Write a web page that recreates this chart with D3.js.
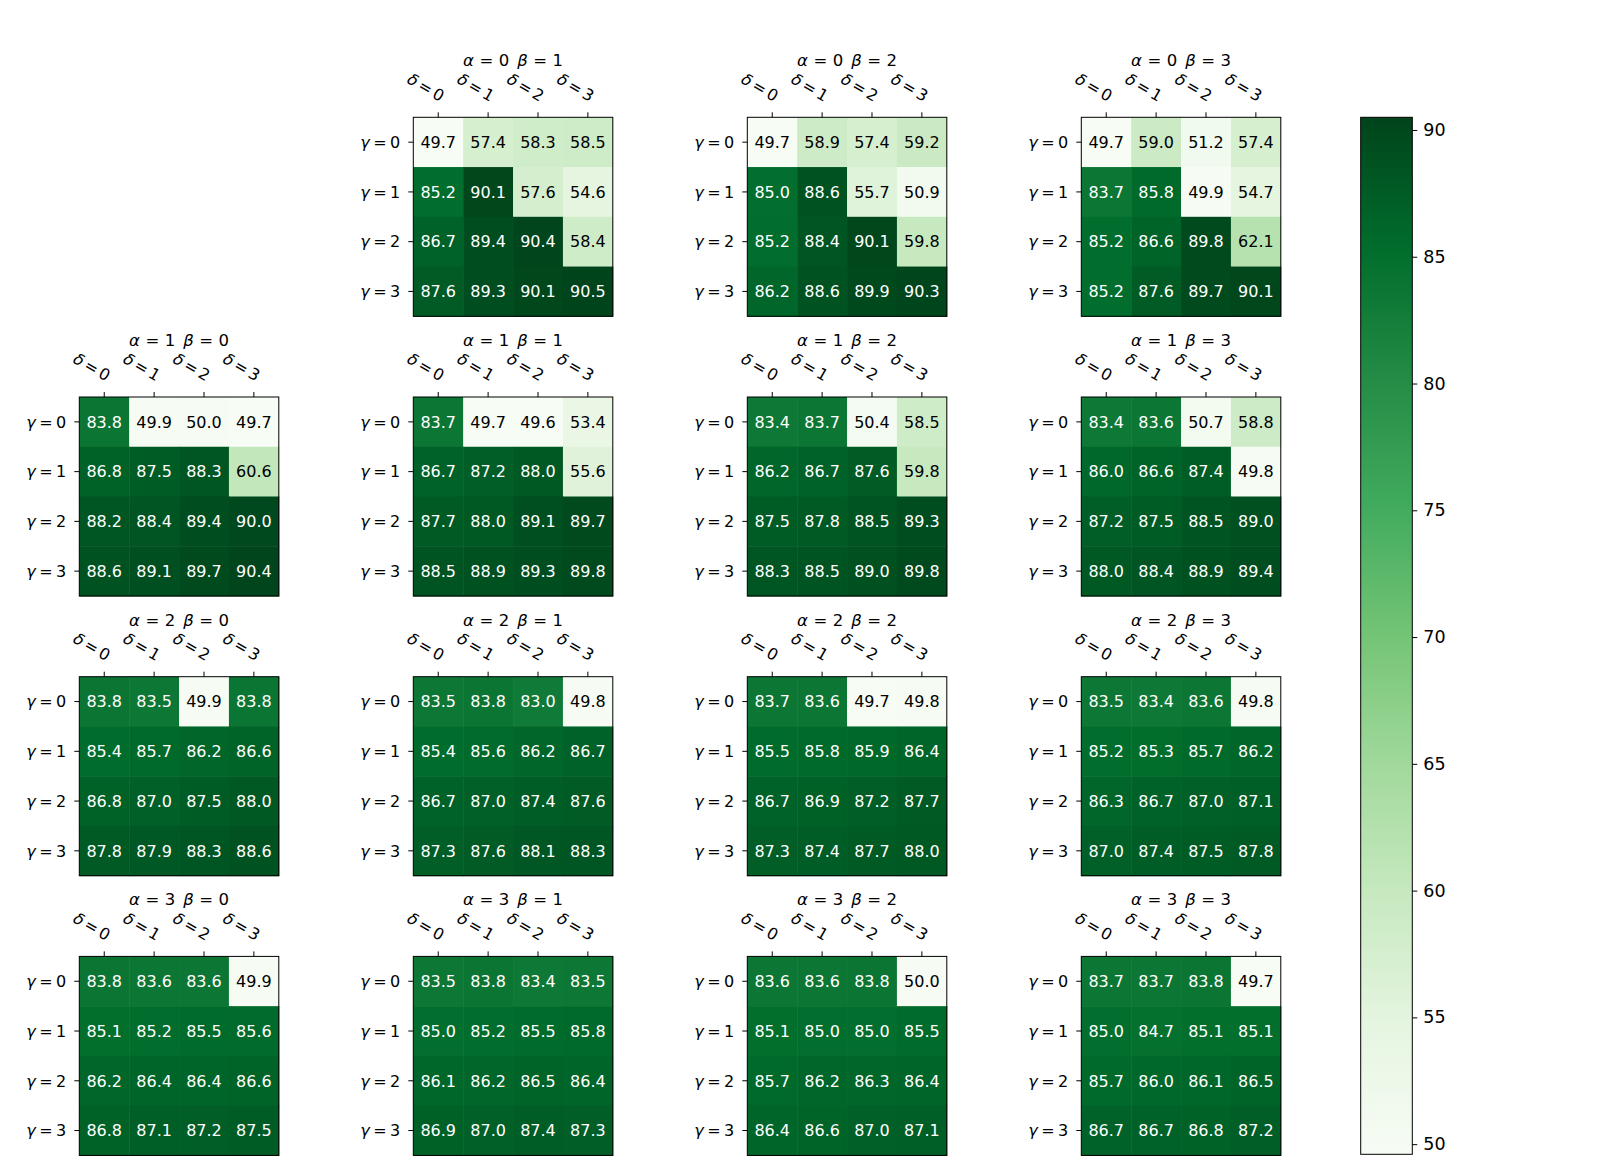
<!DOCTYPE html>
<html>
<head>
<meta charset="utf-8">
<script src="https://cdn.jsdelivr.net/npm/d3@7"></script>
<style>
  body { margin: 0; background: #fff; }
  text { font-family: "DejaVu Sans", sans-serif; fill: #000; }
</style>
</head>
<body>
<svg id="chart" width="1600" height="1166"></svg>
<script>
// tick labels
const deltaTicks = ["0", "1", "2", "3"]
const gammaTicks = ["0", "1", "2", "3"]
const colorTicks = [50, 55, 60, 65, 70, 75, 80, 85, 90]

// one 4x4 grid per (alpha, beta): rows = gamma, columns = delta
const a0b1 = [[49.7, 57.4, 58.3, 58.5], [85.2, 90.1, 57.6, 54.6], [86.7, 89.4, 90.4, 58.4], [87.6, 89.3, 90.1, 90.5]]
const a0b2 = [[49.7, 58.9, 57.4, 59.2], [85.0, 88.6, 55.7, 50.9], [85.2, 88.4, 90.1, 59.8], [86.2, 88.6, 89.9, 90.3]]
const a0b3 = [[49.7, 59.0, 51.2, 57.4], [83.7, 85.8, 49.9, 54.7], [85.2, 86.6, 89.8, 62.1], [85.2, 87.6, 89.7, 90.1]]
const a1b0 = [[83.8, 49.9, 50.0, 49.7], [86.8, 87.5, 88.3, 60.6], [88.2, 88.4, 89.4, 90.0], [88.6, 89.1, 89.7, 90.4]]
const a1b1 = [[83.7, 49.7, 49.6, 53.4], [86.7, 87.2, 88.0, 55.6], [87.7, 88.0, 89.1, 89.7], [88.5, 88.9, 89.3, 89.8]]
const a1b2 = [[83.4, 83.7, 50.4, 58.5], [86.2, 86.7, 87.6, 59.8], [87.5, 87.8, 88.5, 89.3], [88.3, 88.5, 89.0, 89.8]]
const a1b3 = [[83.4, 83.6, 50.7, 58.8], [86.0, 86.6, 87.4, 49.8], [87.2, 87.5, 88.5, 89.0], [88.0, 88.4, 88.9, 89.4]]
const a2b0 = [[83.8, 83.5, 49.9, 83.8], [85.4, 85.7, 86.2, 86.6], [86.8, 87.0, 87.5, 88.0], [87.8, 87.9, 88.3, 88.6]]
const a2b1 = [[83.5, 83.8, 83.0, 49.8], [85.4, 85.6, 86.2, 86.7], [86.7, 87.0, 87.4, 87.6], [87.3, 87.6, 88.1, 88.3]]
const a2b2 = [[83.7, 83.6, 49.7, 49.8], [85.5, 85.8, 85.9, 86.4], [86.7, 86.9, 87.2, 87.7], [87.3, 87.4, 87.7, 88.0]]
const a2b3 = [[83.5, 83.4, 83.6, 49.8], [85.2, 85.3, 85.7, 86.2], [86.3, 86.7, 87.0, 87.1], [87.0, 87.4, 87.5, 87.8]]
const a3b0 = [[83.8, 83.6, 83.6, 49.9], [85.1, 85.2, 85.5, 85.6], [86.2, 86.4, 86.4, 86.6], [86.8, 87.1, 87.2, 87.5]]
const a3b1 = [[83.5, 83.8, 83.4, 83.5], [85.0, 85.2, 85.5, 85.8], [86.1, 86.2, 86.5, 86.4], [86.9, 87.0, 87.4, 87.3]]
const a3b2 = [[83.6, 83.6, 83.8, 50.0], [85.1, 85.0, 85.0, 85.5], [85.7, 86.2, 86.3, 86.4], [86.4, 86.6, 87.0, 87.1]]
const a3b3 = [[83.7, 83.7, 83.8, 49.7], [85.0, 84.7, 85.1, 85.1], [85.7, 86.0, 86.1, 86.5], [86.7, 86.7, 86.8, 87.2]]

const panels = [
  [0, 1, a0b1], [0, 2, a0b2], [0, 3, a0b3],
  [1, 0, a1b0], [1, 1, a1b1], [1, 2, a1b2], [1, 3, a1b3],
  [2, 0, a2b0], [2, 1, a2b1], [2, 2, a2b2], [2, 3, a2b3],
  [3, 0, a3b0], [3, 1, a3b1], [3, 2, a3b2], [3, 3, a3b3]
].map(([a, b, v]) => ({alpha: a, beta: b, values: v}))

const svg = d3.select('#chart')
svg.append('rect').attr('width', 1600).attr('height', 1166).attr('fill', '#fff')

// layout
const pw = 199.5, ph = 199
const colLeft = c => 79.3 + 334 * c
const rowTop = r => 117.3 + 279.7 * r

const all = panels.flatMap(p => p.values.flat())
const [vmin, vmax] = d3.extent(all)

// matplotlib "Greens" = linear segments through the 9 brewer colours
const greens = d3.schemeGreens[9]
const color = d3.scaleLinear()
    .domain(greens.map((_, i) => vmin + (vmax - vmin) * i / 8))
    .range(greens)
    .interpolate(d3.interpolateRgb)

const x = d3.scaleBand().domain(d3.range(4)).range([0, pw])
const y = d3.scaleBand().domain(d3.range(4)).range([0, ph])

// "sym = val" in mathtext style: italic symbol, small gaps round "="
function mathText(sel, sym, val, gap) {
  sel.append('tspan').attr('font-style', 'italic').text(sym)
  sel.append('tspan').attr('dx', gap).text('=')
  sel.append('tspan').attr('dx', gap).text(val)
}

panels.forEach(p => {
  const g = svg.append('g')
      .attr('transform', `translate(${colLeft(p.beta)},${rowTop(p.alpha)})`)

  const cells = p.values.flatMap((row, i) => row.map((v, j) => ({i, j, v})))

  g.selectAll('rect.cell')
    .data(cells)
    .join('rect')
    .attr('class', 'cell')
    .attr('x', d => x(d.j))
    .attr('y', d => y(d.i))
    .attr('width', x.bandwidth() + 0.5)
    .attr('height', y.bandwidth() + 0.5)
    .attr('fill', d => color(d.v))

  g.selectAll('text.val')
    .data(cells)
    .join('text')
    .attr('class', 'val')
    .attr('x', d => x(d.j) + x.bandwidth() / 2)
    .attr('y', d => y(d.i) + y.bandwidth() / 2)
    .attr('text-anchor', 'middle')
    .attr('dy', '0.36em')
    .attr('font-size', 16)
    .style('fill', d => d.v > 70 ? '#fff' : '#000')
    .text(d => d.v.toFixed(1))

  g.append('rect')
    .attr('width', pw).attr('height', ph)
    .attr('fill', 'none').attr('stroke', '#000').attr('stroke-width', 1)

  // top axis: delta
  const top = g.append('g')
    .call(d3.axisTop(x).tickSize(5).tickSizeOuter(0).tickFormat(''))
  top.select('.domain').remove()
  top.selectAll('line').attr('stroke', '#000')
  g.selectAll('text.dlab')
    .data(deltaTicks)
    .join('text')
    .attr('class', 'dlab')
    .attr('font-size', 16)
    .attr('text-anchor', 'end')
    .attr('transform', (d, i) => `translate(${x(i) + x.bandwidth() / 2},-12) rotate(30)`)
    .attr('dy', '-0.24em')
    .each(function(d) { mathText(d3.select(this), 'δ', d, 3) })

  // left axis: gamma
  const left = g.append('g')
    .call(d3.axisLeft(y).tickSize(5).tickSizeOuter(0).tickFormat(''))
  left.select('.domain').remove()
  left.selectAll('line').attr('stroke', '#000')
  g.selectAll('text.glab')
    .data(gammaTicks)
    .join('text')
    .attr('class', 'glab')
    .attr('font-size', 16)
    .attr('text-anchor', 'end')
    .attr('x', -13)
    .attr('y', (d, i) => y(i) + y.bandwidth() / 2)
    .attr('dy', '0.36em')
    .each(function(d) { mathText(d3.select(this), 'γ', d, 3.5) })

  // title
  const t = g.append('text')
    .attr('x', pw / 2).attr('y', -51)
    .attr('text-anchor', 'middle')
    .attr('font-size', 16.5)
  mathText(t, 'α', String(p.alpha), 5.5)
  t.append('tspan').attr('dx', 8).attr('font-style', 'italic').text('β')
  t.append('tspan').attr('dx', 5.5).text('=')
  t.append('tspan').attr('dx', 5.5).text(String(p.beta))
})

// colorbar
const cbX = 1360.7, cbW = 51.6, cbTop = 117.3, cbBot = 1154.3
const cy = d3.scaleLinear().domain([vmin, vmax]).range([cbBot, cbTop])

const grad = svg.append('defs').append('linearGradient')
    .attr('id', 'cbgrad')
    .attr('x1', 0).attr('y1', 1).attr('x2', 0).attr('y2', 0)
grad.selectAll('stop')
    .data(greens)
    .join('stop')
    .attr('offset', (d, i) => i / 8)
    .attr('stop-color', d => d)

const cb = svg.append('g').attr('transform', `translate(${cbX},0)`)
cb.append('rect')
    .attr('y', cbTop).attr('width', cbW).attr('height', cbBot - cbTop)
    .attr('fill', 'url(#cbgrad)')
    .attr('stroke', '#000').attr('stroke-width', 1)

const cbAxis = cb.append('g')
    .attr('transform', `translate(${cbW},0)`)
    .call(d3.axisRight(cy).tickValues(colorTicks).tickSize(5).tickPadding(6).tickSizeOuter(0))
cbAxis.select('.domain').remove()
cbAxis.selectAll('line').attr('stroke', '#000')
cbAxis.selectAll('text')
    .attr('font-size', 17.5)
    .style('font-family', '"DejaVu Sans", sans-serif')
    .attr('fill', '#000')
</script>
</body>
</html>
